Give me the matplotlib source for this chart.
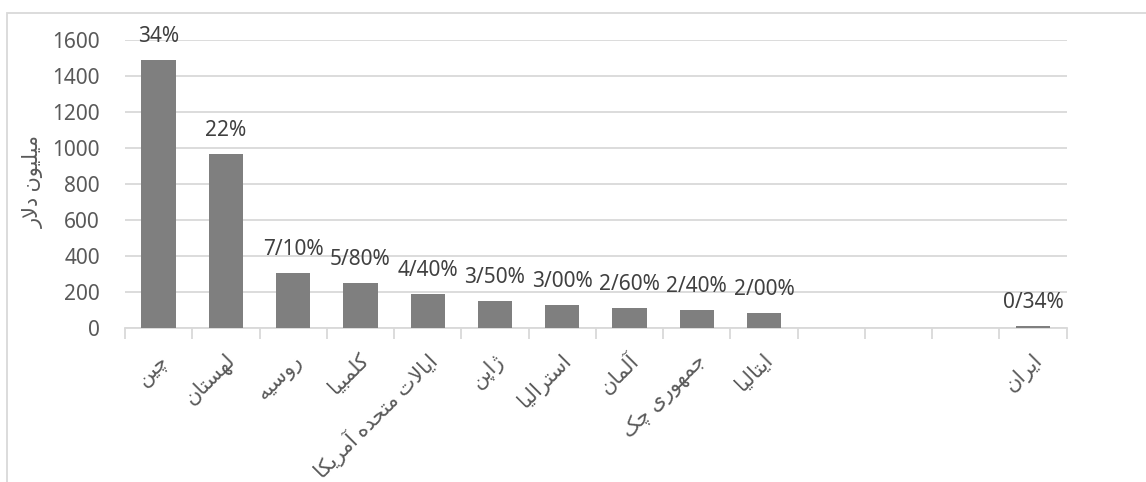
import numpy as np
import matplotlib
matplotlib.use("Agg")
import matplotlib.pyplot as plt
from matplotlib.patches import Rectangle
from matplotlib.transforms import ScaledTranslation

# ---- data ----
categories = ['چین', 'لهستان', 'روسیه', 'کلمبیا', 'ایالات متحده آمریکا', 'ژاپن',
              'استرالیا', 'آلمان', 'جمهوری چک', 'ایتالیا', '', '', '', 'ایران']
values = [1490, 965, 308, 252, 188, 150, 130, 112, 103, 86, np.nan, np.nan, np.nan, 10]
share_labels = ['34%', '22%', '7/10%', '5/80%', '4/40%', '3/50%', '3/00%', '2/60%',
                '2/40%', '2/00%', '', '', '', '0/34%']
y_ticks = [0, 200, 400, 600, 800, 1000, 1200, 1400, 1600]
y_label = 'میلیون دلار'

# ---- minimal Persian shaping (matplotlib has no complex text layout) ----
# (isolated, final, initial, medial)
FORMS = {
    '\u0627': ('\uFE8D', '\uFE8E', None, None),      # alef
    '\u0622': ('\uFE81', '\uFE82', None, None),      # alef madda
    '\u0628': ('\uFE8F', '\uFE90', '\uFE91', '\uFE92'),  # beh
    '\u062A': ('\uFE95', '\uFE96', '\uFE97', '\uFE98'),  # teh
    '\u062C': ('\uFE9D', '\uFE9E', '\uFE9F', '\uFEA0'),  # jeem
    '\u062D': ('\uFEA1', '\uFEA2', '\uFEA3', '\uFEA4'),  # hah
    '\u062F': ('\uFEA9', '\uFEAA', None, None),      # dal
    '\u0631': ('\uFEAD', '\uFEAE', None, None),      # reh
    '\u0633': ('\uFEB1', '\uFEB2', '\uFEB3', '\uFEB4'),  # seen
    '\u0644': ('\uFEDD', '\uFEDE', '\uFEDF', '\uFEE0'),  # lam
    '\u0645': ('\uFEE1', '\uFEE2', '\uFEE3', '\uFEE4'),  # meem
    '\u0646': ('\uFEE5', '\uFEE6', '\uFEE7', '\uFEE8'),  # noon
    '\u0647': ('\uFEE9', '\uFEEA', '\uFEEB', '\uFEEC'),  # heh
    '\u0648': ('\uFEED', '\uFEEE', None, None),      # waw
    '\u06CC': ('\uFBFC', '\uFBFD', '\uFBFE', '\uFBFF'),  # farsi yeh
    '\u064A': ('\uFEF1', '\uFEF2', '\uFEF3', '\uFEF4'),  # yeh
    '\u06A9': ('\uFB8E', '\uFB8F', '\uFB90', '\uFB91'),  # keheh
    '\u067E': ('\uFB56', '\uFB57', '\uFB58', '\uFB59'),  # peh
    '\u0686': ('\uFB7A', '\uFB7B', '\uFB7C', '\uFB7D'),  # tcheh
    '\u0698': ('\uFB8A', '\uFB8B', None, None),      # jeh
}
LAM_ALEF = {'\u0627': ('\uFEFB', '\uFEFC'), '\u0622': ('\uFEF5', '\uFEF6')}


def shape(text):
    chars = list(text)
    n = len(chars)
    res = []
    i = 0
    while i < n:
        c = chars[i]
        if c not in FORMS:
            res.append(c)
            i += 1
            continue
        prev = chars[i - 1] if i > 0 else None
        conn_prev = prev in FORMS and FORMS[prev][2] is not None
        if c == '\u0644' and i + 1 < n and chars[i + 1] in LAM_ALEF:
            lig = LAM_ALEF[chars[i + 1]]
            res.append(lig[1] if conn_prev else lig[0])
            i += 2
            continue
        nxt = chars[i + 1] if i + 1 < n else None
        conn_next = FORMS[c][2] is not None and nxt in FORMS
        f = FORMS[c]
        if conn_prev and conn_next:
            res.append(f[3])
        elif conn_prev:
            res.append(f[1])
        elif conn_next:
            res.append(f[2])
        else:
            res.append(f[0])
        i += 1
    return ''.join(reversed(res))


FAM = ['Noto Sans', 'DejaVu Sans']
plt.rcParams['font.family'] = FAM

fig = plt.figure(figsize=(11.46, 4.82), dpi=100)
ax = fig.add_axes([125 / 1146, 1 - 328.3 / 482, (1066.7 - 125) / 1146, (328.3 - 40) / 482])

x = np.arange(len(categories))
bars = ax.bar(x, values, width=0.51, color='#7f7f7f', zorder=3)

for xi, v, lab in zip(x, values, share_labels):
    if lab and not np.isnan(v):
        ax.annotate(lab, (xi, v), xytext=(0, 13), textcoords='offset points',
                    ha='center', va='baseline', fontsize=15, color='#404040', zorder=4)

ax.set_xlim(-0.5, len(categories) - 0.5)
ax.set_ylim(0, 1600)
ax.set_yticks(y_ticks)
ax.set_yticklabels([str(t) for t in y_ticks], fontsize=15, color='#595959')
ax.tick_params(axis='y', length=0, pad=18)
ax.yaxis.grid(True, color='#d9d9d9', linewidth=1.3, zorder=0)

ax.set_xticks(x)
ax.set_xticklabels([shape(c) for c in categories], rotation=45, ha='right',
                   va='center', rotation_mode='anchor', fontsize=15, color='#595959')
ax.tick_params(axis='x', which='major', length=0, pad=21)
shift = ScaledTranslation(6 / 100, 0, fig.dpi_scale_trans)
for lbl in ax.get_xticklabels():
    lbl.set_transform(lbl.get_transform() + shift)
ax.set_xticks(np.arange(-0.5, len(categories), 1.0), minor=True)
ax.tick_params(axis='x', which='minor', length=8, width=1.3, color='#d9d9d9')

for s in ['top', 'right', 'left']:
    ax.spines[s].set_visible(False)
ax.spines['bottom'].set_color('#d9d9d9')
ax.spines['bottom'].set_linewidth(1.3)

fig.text(33 / 1146, 1 - 181 / 482, shape(y_label), rotation=90, ha='center', va='center',
         fontsize=15, color='#595959')

fig.patches.append(Rectangle((7 / 1146, -0.5), 2.0, 0.5 + (1 - 13.3 / 482),
                             transform=fig.transFigure, fill=False,
                             edgecolor='#d9d9d9', linewidth=1.3))

fig.savefig('out.png', dpi=100)
